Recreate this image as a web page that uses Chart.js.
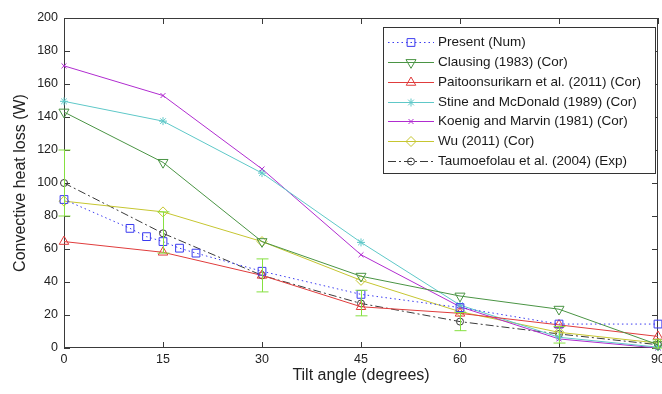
<!DOCTYPE html>
<html>
<head>
<meta charset="utf-8">
<title>Convective heat loss vs tilt angle</title>
<script src="https://cdn.jsdelivr.net/npm/chart.js@4.4.1/dist/chart.umd.min.js"></script>
<style>
  body { margin: 0; background: #fff; }
  canvas { display: block; }
</style>
</head>
<body>
<canvas id="myChart" width="662" height="394"></canvas>
<script>
// tilt angles (degrees)
const angles = [0, 15, 30, 45, 60, 75, 90]
const presentAngles = [0, 10, 12.5, 15, 17.5, 20, 30, 45, 60, 75, 90]

// convective heat loss (W)
const presentNum = [90, 72.5, 67.5, 64.5, 60.5, 57.5, 46.5, 32.5, 24.5, 14.5, 14.5]
const clausing = [143, 112.5, 64.5, 43.5, 31.5, 23.5, 2]
const paitoonsurikarn = [64.5, 58, 44, 25, 21, 14, 7]
const stine = [149.5, 137.5, 106, 64, 26, 6.5, 0.5]
const koenig = [171, 153, 108.5, 56.5, 25, 5.5, 0]
const wu = [89, 82.5, 64.5, 41, 22, 9.5, 3]
const taumoefolau = [100, 69.5, 44, 27, 16, 8.5, 2]
const errLow = [80, 57.5, 34, 19.5, 10.5, 3, 0]
const errHigh = [120, 82.5, 54, 35, 21.5, 13, 5]

const xTicks = [0, 15, 30, 45, 60, 75, 90]
const yTicks = [0, 20, 40, 60, 80, 100, 120, 140, 160, 180, 200]

function pairs(xs, ys) {
  return ys.map((v, i) => ({ x: xs[i], y: v }))
}

function series(label, xs, ys, color, style, radius, extra) {
  return Object.assign({
    label: label,
    data: pairs(xs, ys),
    borderColor: color,
    backgroundColor: 'rgba(0,0,0,0)',
    pointBorderColor: color,
    pointBackgroundColor: 'rgba(0,0,0,0)',
    pointStyle: style,
    pointRadius: radius,
    pointBorderWidth: 1,
    borderWidth: 1,
    tension: 0,
    fill: false,
    clip: false,
  }, extra || {})
}

let data = {
  datasets: [
    series('Present (Num)', presentAngles, presentNum, '#3b3bf0', 'rect', 5.5, { borderDash: [1.5, 3] }),
    series('Clausing (1983) (Cor)', angles, clausing, '#4a9444', 'triangle', 5.8, { pointRotation: 180 }),
    series('Paitoonsurikarn et al. (2011) (Cor)', angles, paitoonsurikarn, '#e03c3c', 'triangle', 5.5),
    series('Stine and McDonald (1989) (Cor)', angles, stine, '#5ec8c8', 'star', 4),
    series('Koenig and Marvin (1981) (Cor)', angles, koenig, '#b02cd0', 'crossRot', 3.5),
    series('Wu (2011) (Cor)', angles, wu, '#c6c630', 'rectRot', 5),
    series('Taumoefolau et al. (2004) (Exp)', angles, taumoefolau, '#3a3a3a', 'circle', 3.5, { borderDash: [8, 3, 2, 3] }),
  ],
}

// box frame with inward ticks on all four sides
const framePlugin = {
  id: 'frame',
  beforeDatasetsDraw(chart) {
    const { ctx, chartArea: a, scales: { x, y } } = chart
    ctx.save()
    ctx.strokeStyle = '#3a3a3a'
    ctx.lineWidth = 1
    ctx.strokeRect(a.left + 0.5, a.top + 0.5, a.right - a.left - 1, a.bottom - a.top - 1)
    ctx.beginPath()
    x.ticks.forEach(t => {
      const px = Math.round(x.getPixelForValue(t.value)) + 0.5
      ctx.moveTo(px, a.bottom); ctx.lineTo(px, a.bottom - 6)
      ctx.moveTo(px, a.top); ctx.lineTo(px, a.top + 6)
    })
    y.ticks.forEach(t => {
      const py = Math.round(y.getPixelForValue(t.value)) + 0.5
      ctx.moveTo(a.left, py); ctx.lineTo(a.left + 6, py)
      ctx.moveTo(a.right, py); ctx.lineTo(a.right - 6, py)
    })
    ctx.stroke()
    ctx.restore()
  },
}

// experimental error bars
const errorBarPlugin = {
  id: 'errorBars',
  afterDatasetsDraw(chart) {
    const { ctx, scales: { x, y } } = chart
    ctx.save()
    ctx.strokeStyle = '#86e040'
    ctx.lineWidth = 1
    ctx.beginPath()
    angles.forEach((a, i) => {
      const px = Math.round(x.getPixelForValue(a)) + 0.5
      const lo = y.getPixelForValue(errLow[i])
      const hi = y.getPixelForValue(errHigh[i])
      ctx.moveTo(px, lo); ctx.lineTo(px, hi)
      ctx.moveTo(px - 6, lo); ctx.lineTo(px + 6, lo)
      ctx.moveTo(px - 6, hi); ctx.lineTo(px + 6, hi)
    })
    ctx.stroke()
    ctx.restore()
  },
}

// legend box inside the plot, top right
const legendPlugin = {
  id: 'boxLegend',
  afterDraw(chart) {
    const ctx = chart.ctx
    const left = 383, top = 27, w = 272, h = 146
    ctx.save()
    ctx.fillStyle = '#fff'
    ctx.fillRect(left, top, w, h)
    ctx.strokeStyle = '#333'
    ctx.lineWidth = 1
    ctx.strokeRect(left + 0.5, top + 0.5, w, h)
    ctx.font = '13.5px "Liberation Sans", Arial, sans-serif'
    ctx.textBaseline = 'middle'
    chart.data.datasets.forEach((ds, i) => {
      const yy = Math.round(top + 15 + i * 19.85) + 0.5
      ctx.strokeStyle = ds.borderColor
      ctx.setLineDash(ds.borderDash || [])
      ctx.beginPath()
      ctx.moveTo(388, yy); ctx.lineTo(434, yy)
      ctx.stroke()
      ctx.setLineDash([])
      ctx.fillStyle = 'rgba(0,0,0,0)'
      Chart.helpers.drawPoint(ctx, {
        pointStyle: ds.pointStyle,
        radius: ds.pointRadius,
        rotation: ds.pointRotation || 0,
        borderWidth: 1,
      }, 411, yy)
      ctx.fillStyle = '#1a1a1a'
      ctx.fillText(ds.label, 438, yy)
    })
    ctx.restore()
  },
}

let config = {
  type: 'line',
  data: data,
  options: {
    responsive: false,
    devicePixelRatio: 1,
    animation: false,
    layout: { autoPadding: false, padding: { top: 18, right: 4, left: 0, bottom: 0 } },
    scales: {
      x: {
        type: 'linear',
        min: 0,
        max: 90,
        afterBuildTicks: s => { s.ticks = xTicks.map(v => ({ value: v })) },
        afterFit: s => { s.height = 46; s.paddingLeft = 0; s.paddingRight = 0 },
        grid: { display: false, drawTicks: false },
        border: { display: false },
        ticks: {
          padding: 4,
          color: '#222',
          font: { family: '"Liberation Sans", Arial, sans-serif', size: 12.5 },
        },
        title: {
          display: true,
          text: 'Tilt angle (degrees)',
          color: '#222',
          font: { family: '"Liberation Sans", Arial, sans-serif', size: 16 },
          padding: { top: 0, bottom: 9 },
        },
      },
      y: {
        min: 0,
        max: 200,
        afterBuildTicks: s => { s.ticks = yTicks.map(v => ({ value: v })) },
        afterFit: s => { s.width = 64; s.paddingTop = 0; s.paddingBottom = 0 },
        grid: { display: false, drawTicks: false },
        border: { display: false },
        ticks: {
          padding: 6,
          color: '#222',
          font: { family: '"Liberation Sans", Arial, sans-serif', size: 12.5 },
        },
        title: {
          display: true,
          text: 'Convective heat loss (W)',
          color: '#222',
          font: { family: '"Liberation Sans", Arial, sans-serif', size: 16 },
          padding: { top: 11, bottom: 0 },
        },
      },
    },
    plugins: {
      legend: { display: false },
      tooltip: { enabled: false },
    },
  },
  plugins: [framePlugin, errorBarPlugin, legendPlugin],
}

let chart = new Chart(document.getElementById('myChart'), config)
</script>
</body>
</html>
